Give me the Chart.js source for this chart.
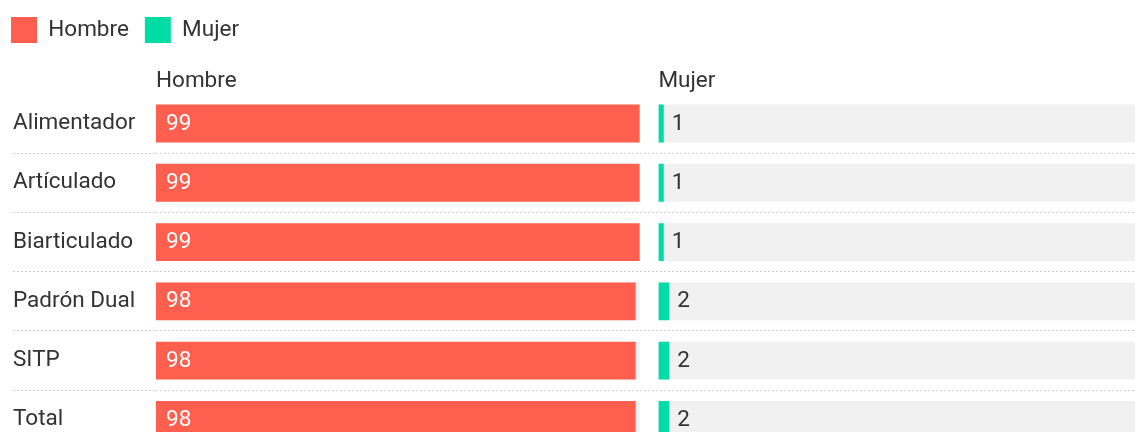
<!DOCTYPE html>
<html>
<head>
<meta charset="utf-8">
<script src="https://cdn.jsdelivr.net/npm/chart.js@4"></script>
<style>
html,body{margin:0;padding:0;overflow:hidden;background:#fff}
#wrap{width:1142px;height:463px;position:relative}
</style>
</head>
<body>
<div id="wrap"><canvas id="c"></canvas></div>
<script>
// ---- data ----
const categories = ['Alimentador', 'Artículado', 'Biarticulado', 'Padrón Dual', 'SITP', 'Total'];
const seriesNames = ['Hombre', 'Mujer'];
const hombre = [98.9, 98.9, 98.9, 98.1, 98.1, 98.1];
const mujer  = [1.1, 1.1, 1.1, 2.2, 2.2, 2.2];
// background range bars (column range maximum)
const rangeHombre = [98.9, 98.9, 98.9, 98.9, 98.9, 98.9];
const rangeMujer  = [98.9, 98.9, 98.9, 98.9, 98.9, 98.9];

// ---- style ----
const RED = '#ff5f4f';
const TEAL = '#00dca6';
const TRACK = '#f1f1f1';
const TEXT = '#333333';
const SEP = '#cfcfcf';
const FS = 22.5;

Chart.defaults.font.family = 'Roboto';
Chart.defaults.color = TEXT;

const valueLabels = {
  id: 'valueLabels',
  afterDatasetsDraw(chart) {
    const ctx = chart.ctx;
    ctx.save();
    ctx.font = FS + 'px Roboto';
    ctx.textBaseline = 'middle';
    ctx.textAlign = 'left';
    [0, 1].forEach(di => {
      const meta = chart.getDatasetMeta(di);
      const data = chart.data.datasets[di].data;
      meta.data.forEach((bar, i) => {
        const txt = String(Math.round(data[i]));
        if (di === 0) {
          ctx.fillStyle = '#ffffff';
          ctx.fillText(txt, Math.min(bar.base, bar.x) + 10, bar.y + 0.5);
        } else {
          ctx.fillStyle = TEXT;
          ctx.fillText(txt, Math.max(bar.base, bar.x) + 8, bar.y + 0.5);
        }
      });
    });
    ctx.restore();
  }
};

const sepColor = c => (c.index === 0 ? 'rgba(0,0,0,0)' : SEP);

new Chart(document.getElementById('c'), {
  type: 'bar',
  data: {
    labels: categories,
    datasets: [
      { label: seriesNames[0], data: hombre, xAxisID: 'xH', yAxisID: 'y', backgroundColor: RED, order: 0 },
      { label: seriesNames[1], data: mujer, xAxisID: 'xM', yAxisID: 'y', backgroundColor: TEAL, order: 0 },
      { label: 'rangeH', data: rangeHombre, xAxisID: 'xH', yAxisID: 'y', backgroundColor: TRACK, order: 1 },
      { label: 'rangeM', data: rangeMujer, xAxisID: 'xM', yAxisID: 'y', backgroundColor: TRACK, order: 1 }
    ]
  },
  options: {
    indexAxis: 'y',
    responsive: true,
    maintainAspectRatio: false,
    animation: false,
    events: [],
    datasets: { bar: { grouped: false, barPercentage: 0.8, categoryPercentage: 0.8, borderWidth: 0 } },
    layout: { padding: { left: -5, top: 1, right: 0, bottom: 0 } },
    plugins: {
      tooltip: { enabled: false },
      legend: {
        position: 'top',
        align: 'start',
        labels: {
          filter: item => item.datasetIndex < 2,
          boxWidth: 26,
          boxHeight: 26,
          padding: 16,
          color: TEXT,
          font: { size: FS }
        }
      }
    },
    scales: {
      y: {
        type: 'category',
        position: 'left',
        weight: 0,
        afterFit: s => { s.width = 143; },
        grid: {
          offset: true,
          color: sepColor,
          tickColor: sepColor,
          lineWidth: 1,
          tickWidth: 1,
          tickLength: 143,
          drawTicks: true,
          borderDash: [2, 2],
          tickBorderDash: [2, 2]
        },
        border: { display: false, dash: [2, 2] },
        ticks: { crossAlign: 'far', padding: 0, color: TEXT, font: { size: FS, lineHeight: 1.2 } }
      },
      pad: {
        type: 'linear',
        axis: 'y',
        position: 'left',
        weight: 1,
        afterFit: s => { s.width = 18; },
        ticks: { display: false },
        grid: { display: false, drawTicks: false },
        border: { display: false }
      },
      xH: {
        type: 'linear',
        axis: 'x',
        position: 'top',
        weight: 1,
        stack: 'cols',
        stackWeight: 502.3,
        min: 0,
        max: 102.74,
        ticks: { display: false },
        grid: { display: false, drawTicks: false },
        border: { display: false },
        title: { display: true, text: seriesNames[0], align: 'start', color: TEXT,
                 font: { size: FS, lineHeight: 1.1 }, padding: { top: 16.2, bottom: 0 } }
      },
      xM: {
        type: 'linear',
        axis: 'x',
        position: 'top',
        weight: 0,
        stack: 'cols',
        stackWeight: 483.5,
        min: 0,
        max: 98.9,
        ticks: { display: false },
        grid: { display: false, drawTicks: false },
        border: { display: false },
        title: { display: true, text: seriesNames[1], align: 'start', color: TEXT,
                 font: { size: FS, lineHeight: 1.1 }, padding: { top: 16.2, bottom: 0 } }
      }
    }
  },
  plugins: [valueLabels]
});
</script>
</body>
</html>
